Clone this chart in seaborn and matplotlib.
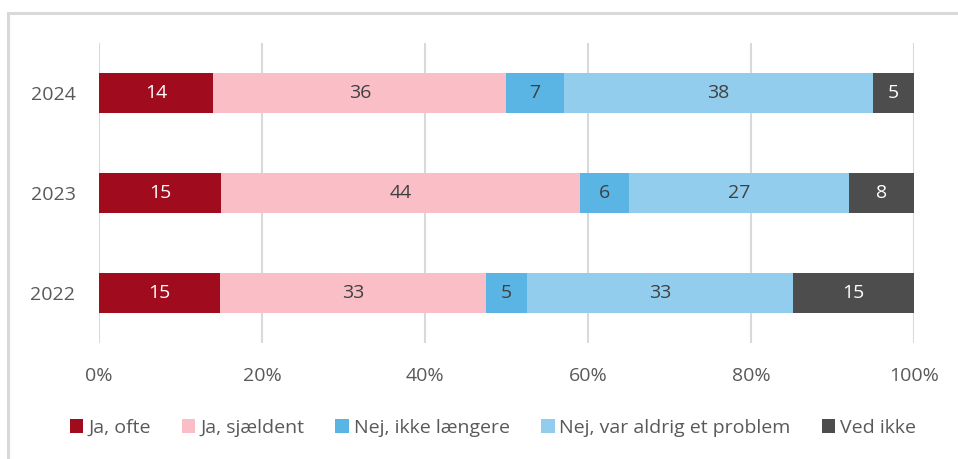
import matplotlib
matplotlib.use("Agg")
import matplotlib.pyplot as plt
import seaborn as sns
import pandas as pd
import numpy as np
from matplotlib.patches import Patch, Rectangle

years = ["2024", "2023", "2022"]
series = ["Ja, ofte", "Ja, sjældent", "Nej, ikke længere", "Nej, var aldrig et problem", "Ved ikke"]
ja_ofte = [14, 15, 15]
ja_sjaeldent = [36, 44, 33]
nej_ikke_laengere = [7, 6, 5]
nej_aldrig = [38, 27, 33]
ved_ikke = [5, 8, 15]
xticks = [0, 20, 40, 60, 80, 100]
xtick_labels = ["0%", "20%", "40%", "60%", "80%", "100%"]

colors = ["#A10B1E", "#F9BEC6", "#5AB4E4", "#93CDEE", "#4D4D4D"]
text_colors = ["white", "#404040", "#404040", "#404040", "white"]

sns.set_theme(style="white")
plt.rcParams["font.family"] = ["Open Sans", "DejaVu Sans"]

vals = np.array([ja_ofte, ja_sjaeldent, nej_ikke_laengere, nej_aldrig, ved_ikke], dtype=float)
pct = vals / vals.sum(axis=0) * 100
cum = np.cumsum(pct, axis=0)

fig = plt.figure(figsize=(9.58, 4.59), dpi=100)
W, H = 958, 459
ax = fig.add_axes([99 / W, 1 - 343 / H, (914 - 99) / W, 300 / H])

# frame
fig.patches.append(Rectangle((8 / W, -0.1), 1.2, (1 - 13 / H) + 0.1, transform=fig.transFigure,
                             fill=False, edgecolor="#D9D9D9", linewidth=2.2, zorder=0))

for i in range(len(series) - 1, -1, -1):
    df = pd.DataFrame({"year": years, "value": cum[i]})
    sns.barplot(data=df, x="value", y="year", order=years, color=colors[i],
                width=0.4, ax=ax, orient="h", saturation=1, zorder=3, linewidth=0)

for i in range(len(series)):
    for j, y in enumerate(years):
        mid = cum[i, j] - pct[i, j] / 2
        ax.text(mid, j, f"{int(vals[i, j])}", ha="center", va="center",
                color=text_colors[i], fontsize=14, zorder=5)

ax.set_xlim(0, 100)
ax.set_ylim(2.5, -0.5)
ax.set_xticks(xticks)
ax.set_xticklabels(xtick_labels)
ax.set_xlabel("")
ax.set_ylabel("")
ax.grid(axis="x", color="#D9D9D9", linewidth=1.5, zorder=0)
ax.set_axisbelow(True)
for s in ax.spines.values():
    s.set_visible(False)
ax.tick_params(axis="both", length=0, labelsize=14, colors="#595959")
ax.tick_params(axis="x", pad=17)
ax.tick_params(axis="y", pad=17)

handles = [Patch(facecolor=c, edgecolor="none") for c in colors]
fig.legend(handles, series, loc="center", bbox_to_anchor=(493 / W, 1 - 428 / H), ncol=5,
           frameon=False, fontsize=14, handlelength=0.7, handleheight=0.7,
           handletextpad=0.25, columnspacing=1.6, labelcolor="#595959")

fig.savefig("out.png", dpi=100)
